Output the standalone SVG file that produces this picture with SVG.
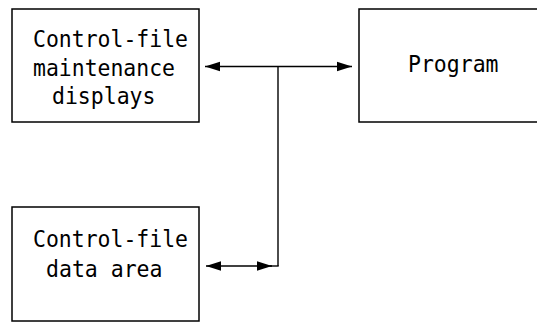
<svg xmlns="http://www.w3.org/2000/svg" width="537" height="323" viewBox="0 0 537 323">
<style>
.box{fill:#fff;stroke:#000;stroke-width:1.5}
.t{font-family:"DejaVu Sans Mono","Liberation Mono",monospace;font-size:23.5px;fill:#000}
.c{fill:none;stroke:#000;stroke-width:1.4}
</style>
<defs>
<marker id="ah" markerUnits="userSpaceOnUse" markerWidth="16" markerHeight="11" refX="15" refY="5.5" orient="auto-start-reverse">
<path d="M0,0.8 L15,5.5 L0,10.2 Z" fill="#000"/>
</marker>
</defs>
<rect width="537" height="323" fill="#fff"/>
<g id="maint">
<rect class="box" x="12" y="9" width="187" height="113"/>
<text class="t" x="33" y="47" textLength="155" lengthAdjust="spacingAndGlyphs">Control-file</text>
<text class="t" x="33" y="76" textLength="142" lengthAdjust="spacingAndGlyphs">maintenance</text>
<text class="t" x="52" y="104" textLength="103.5" lengthAdjust="spacingAndGlyphs">displays</text>
</g>
<g id="program">
<rect class="box" x="359" y="9" width="190" height="113"/>
<text class="t" x="408" y="72" textLength="90.5" lengthAdjust="spacingAndGlyphs">Program</text>
</g>
<g id="dataarea">
<rect class="box" x="12" y="207" width="187" height="114"/>
<text class="t" x="33" y="247" textLength="155" lengthAdjust="spacingAndGlyphs">Control-file</text>
<text class="t" x="46" y="277" textLength="116.5" lengthAdjust="spacingAndGlyphs">data area</text>
</g>
<g id="connectors">
<line class="c" x1="205" y1="66.5" x2="352" y2="66.5" marker-start="url(#ah)" marker-end="url(#ah)"/>
<line class="c" x1="278" y1="66.5" x2="278" y2="266"/>
<line class="c" x1="206" y1="266" x2="272" y2="266" marker-start="url(#ah)" marker-end="url(#ah)"/>
<line class="c" x1="270" y1="266" x2="278.7" y2="266"/>
</g>
</svg>
